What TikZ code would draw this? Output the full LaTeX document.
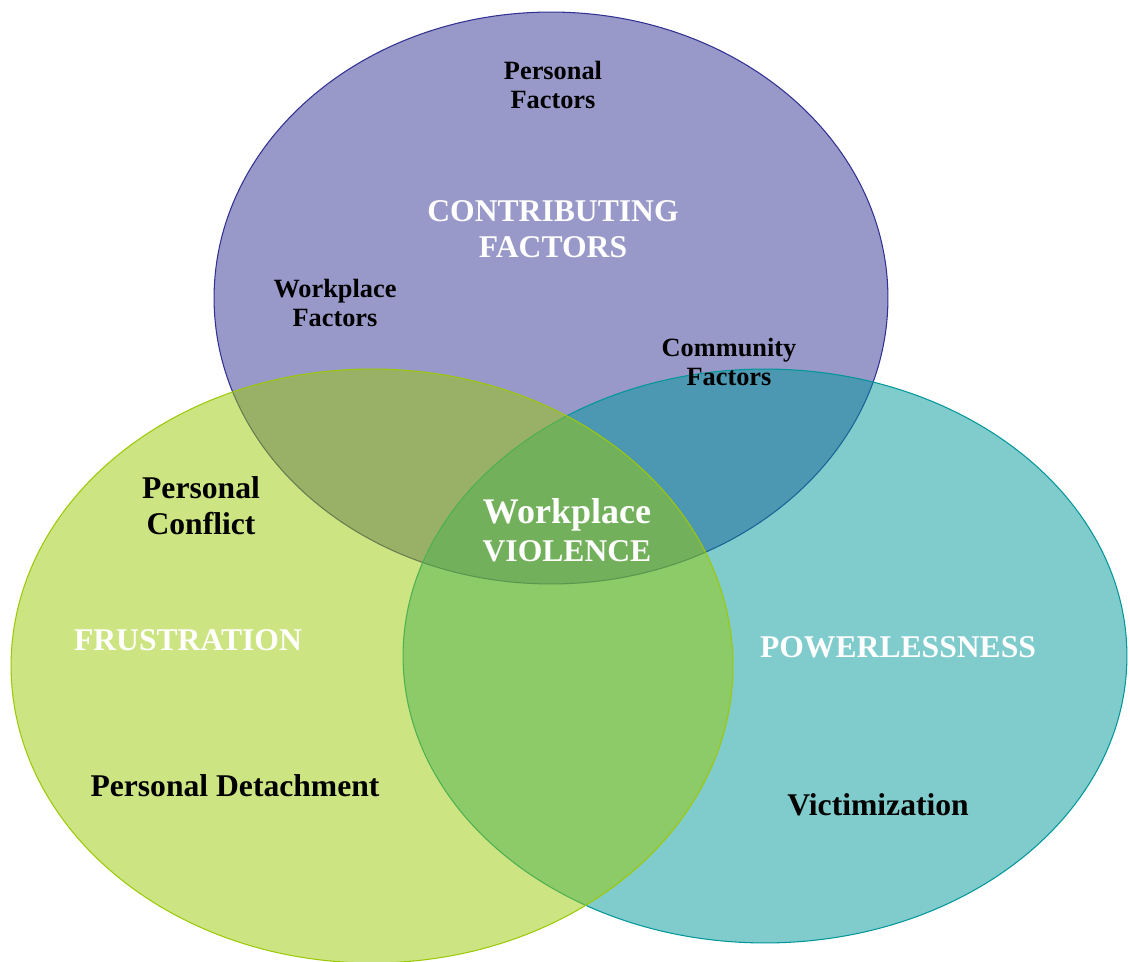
\documentclass[tikz,border=0pt]{standalone}
\usepackage{fontspec}
\setmainfont{Liberation Serif}

\definecolor{purpleset}{RGB}{49,49,147}
\definecolor{tealset}{RGB}{1,151,153}
\definecolor{limeset}{RGB}{155,201,7}

\tikzset{
	set/.style={line width=0.6pt, fill opacity=0.5},
	factor/.style={font=\bfseries\fontsize{15}{17}\selectfont, align=center, inner sep=0pt},
	item/.style={font=\bfseries\fontsize{18}{20.5}\selectfont, align=center, inner sep=0pt},
	heading/.style={item, text=white},
}

\begin{document}
\begin{tikzpicture}[x=0.02cm, y=-0.02cm]
	\useasboundingbox (0,0) rectangle (1130,962);

	% the three sets, drawn back to front
	\draw[set, draw=purpleset, fill=purpleset] (551,298) ellipse [x radius=6.74cm, y radius=5.72cm];
	\draw[set, draw=tealset, fill=tealset] (765,656) ellipse [x radius=7.24cm, y radius=5.74cm];
	\draw[set, draw=limeset, fill=limeset] (372,666) ellipse [x radius=7.22cm, y radius=5.94cm];

	% contributing factors
	\node[factor] (personal) at (553,85) {Personal\\Factors};
	\node[heading] (contrib) at (553,229) {CONTRIBUTING\\FACTORS};
	\node[factor] (workplace) at (335,303) {Workplace\\Factors};
	\node[factor] (community) at (729,362) {Community\\Factors};

	% frustration
	\node[item] (conflict) at (201,506) {Personal\\Conflict};
	\node[heading] (frustration) at (188,640) {FRUSTRATION};
	\node[item] (detach) at (235,786) {Personal Detachment};

	% powerlessness
	\node[heading] (power) at (898,647) {POWERLESSNESS};
	\node[item] (victim) at (878,805) {Victimization};

	% the common part
	\node[heading, font=\bfseries\fontsize{18}{21.5}\selectfont] (violence) at (567,530)
		{{\fontsize{20.5}{21.5}\selectfont Workplace}\\VIOLENCE};
\end{tikzpicture}
\end{document}
